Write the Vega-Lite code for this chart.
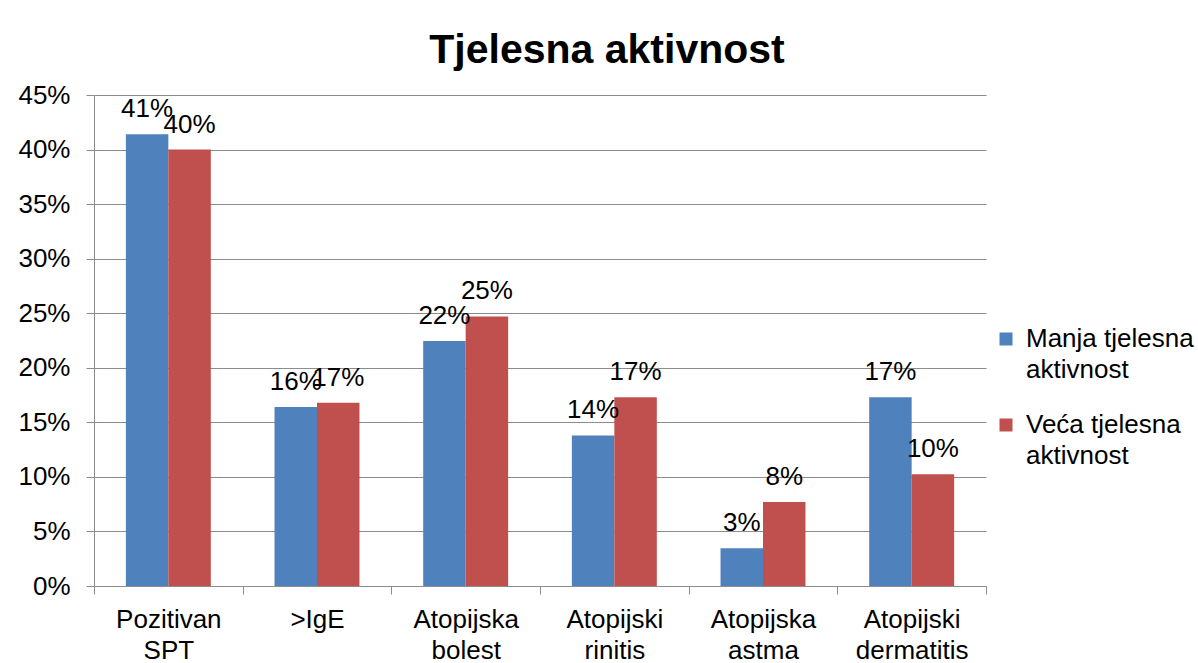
{
  "$schema": "https://vega.github.io/schema/vega-lite/v6.json",
  "autosize": {"type": "none"},
  "width": 892,
  "height": 491,
  "padding": {"left": 94, "top": 95, "right": 212, "bottom": 77},
  "background": "white",
  "title": {
    "text": "Tjelesna aktivnost",
    "font": "Liberation Sans",
    "fontSize": 41,
    "fontWeight": "bold",
    "color": "black",
    "anchor": "middle",
    "frame": "group",
    "dx": 67,
    "offset": 10
  },
  "data": {
    "values": [
      {"kategorija": "Pozitivan SPT", "grupa": "Manja tjelesna aktivnost", "vrijednost": 0.414},
      {"kategorija": "Pozitivan SPT", "grupa": "Veća tjelesna aktivnost", "vrijednost": 0.400},
      {"kategorija": ">IgE", "grupa": "Manja tjelesna aktivnost", "vrijednost": 0.164},
      {"kategorija": ">IgE", "grupa": "Veća tjelesna aktivnost", "vrijednost": 0.168},
      {"kategorija": "Atopijska bolest", "grupa": "Manja tjelesna aktivnost", "vrijednost": 0.2245},
      {"kategorija": "Atopijska bolest", "grupa": "Veća tjelesna aktivnost", "vrijednost": 0.247},
      {"kategorija": "Atopijski rinitis", "grupa": "Manja tjelesna aktivnost", "vrijednost": 0.138},
      {"kategorija": "Atopijski rinitis", "grupa": "Veća tjelesna aktivnost", "vrijednost": 0.173},
      {"kategorija": "Atopijska astma", "grupa": "Manja tjelesna aktivnost", "vrijednost": 0.0345},
      {"kategorija": "Atopijska astma", "grupa": "Veća tjelesna aktivnost", "vrijednost": 0.077},
      {"kategorija": "Atopijski dermatitis", "grupa": "Manja tjelesna aktivnost", "vrijednost": 0.173},
      {"kategorija": "Atopijski dermatitis", "grupa": "Veća tjelesna aktivnost", "vrijednost": 0.1025}
    ]
  },
  "encoding": {
    "x": {
      "field": "kategorija",
      "type": "nominal",
      "sort": null,
      "scale": {"paddingInner": 0, "paddingOuter": 0},
      "axis": {
        "title": null,
        "labelAngle": 0,
        "labelExpr": "split(datum.label, ' ')",
        "labelFont": "Liberation Sans",
        "labelFontSize": 26,
        "labelColor": "black",
        "labelLineHeight": 31,
        "labelPadding": 12,
        "tickBand": "extent",
        "ticks": true,
        "tickSize": 8,
        "tickColor": "#8c8c8c",
        "domainColor": "#8c8c8c",
        "grid": false,
        "labelLimit": 300
      }
    },
    "xOffset": {
      "field": "grupa",
      "type": "nominal",
      "sort": ["Manja tjelesna aktivnost", "Veća tjelesna aktivnost"],
      "scale": {"paddingInner": 0, "paddingOuter": 0.75}
    },
    "y": {
      "field": "vrijednost",
      "type": "quantitative",
      "scale": {"domain": [0, 0.45], "nice": false},
      "axis": {
        "title": null,
        "format": ".0%",
        "values": [0, 0.05, 0.1, 0.15, 0.2, 0.25, 0.3, 0.35, 0.4, 0.45],
        "labelFont": "Liberation Sans",
        "labelFontSize": 26,
        "labelColor": "black",
        "labelPadding": 16,
        "tickSize": 8,
        "tickColor": "#8c8c8c",
        "domainColor": "#8c8c8c",
        "gridColor": "#8c8c8c",
        "gridOpacity": 1,
        "gridWidth": 1
      }
    }
  },
  "layer": [
    {
      "mark": {"type": "bar"},
      "encoding": {
        "color": {
          "field": "grupa",
          "type": "nominal",
          "sort": ["Manja tjelesna aktivnost", "Veća tjelesna aktivnost"],
          "scale": {"range": ["#4F81BD", "#C0504D"]},
          "legend": {
            "title": null,
            "orient": "none",
            "legendX": 899,
            "legendY": 231,
            "symbolType": "square",
            "symbolSize": 169,
            "symbolStrokeWidth": 0,
            "labelFont": "Liberation Sans",
            "labelFontSize": 26,
            "labelColor": "black",
            "labelBaseline": "middle",
            "labelOffset": 7,
            "labelLimit": 300,
            "rowPadding": 29,
            "labelExpr": "[replace(datum.label, ' aktivnost', ''), 'aktivnost']"
          }
        }
      }
    },
    {
      "mark": {
        "type": "text",
        "font": "Liberation Sans",
        "fontSize": 26,
        "color": "black",
        "baseline": "alphabetic",
        "dy": -17
      },
      "encoding": {
        "text": {"field": "vrijednost", "type": "quantitative", "format": ".0%"}
      }
    }
  ],
  "config": {
    "view": {"stroke": null},
    "style": {"guide-label": {"lineHeight": 31}}
  }
}
